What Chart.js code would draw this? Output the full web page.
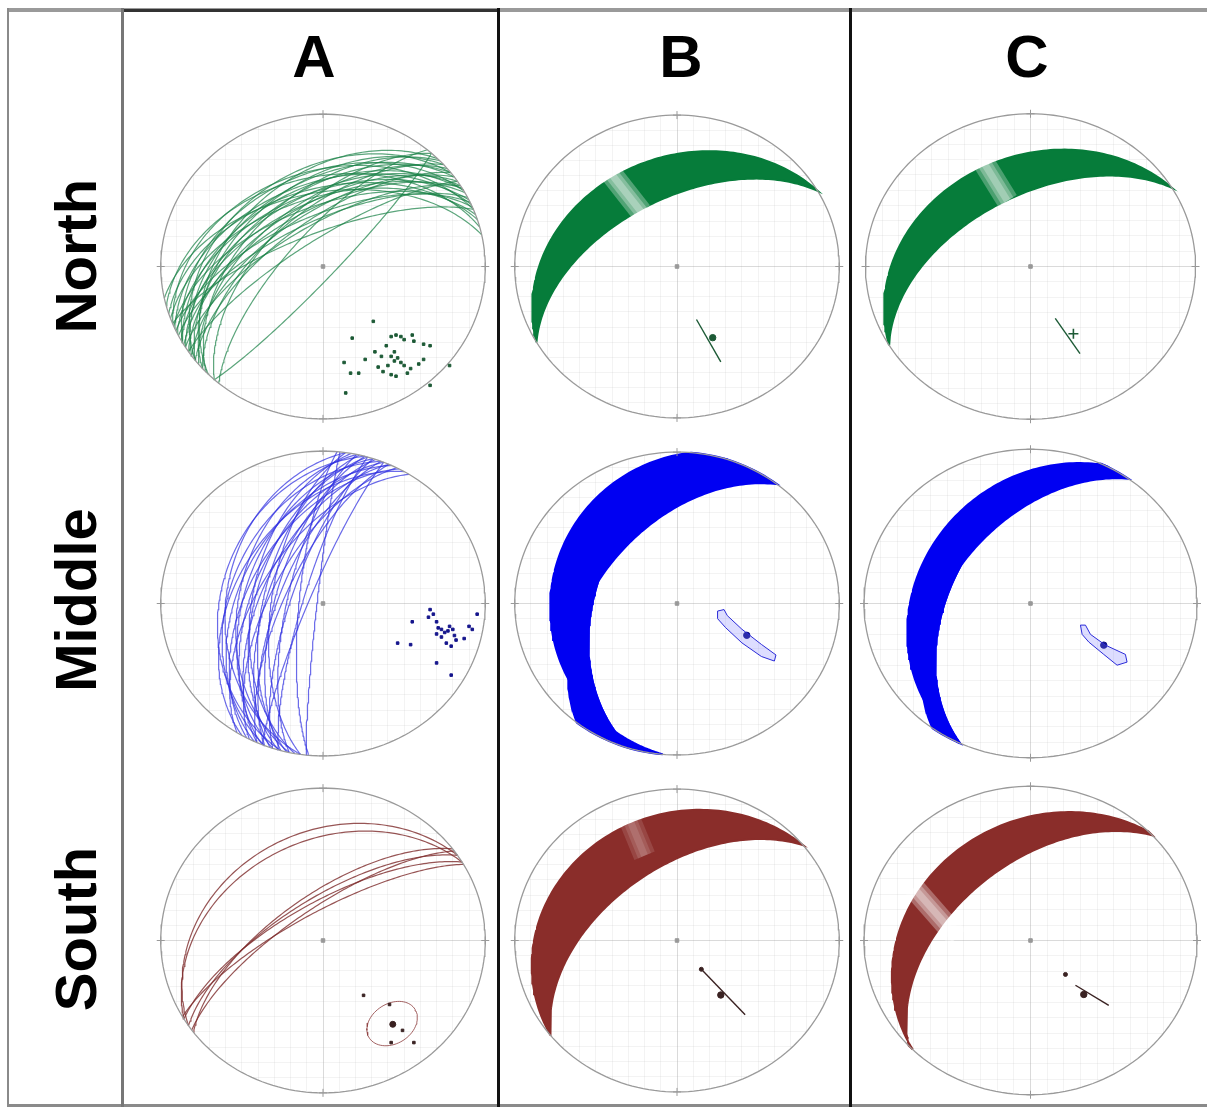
<!DOCTYPE html>
<html>
<head>
<meta charset="utf-8">
<script src="https://cdn.jsdelivr.net/npm/chart.js@4.4.1/dist/chart.umd.min.js"></script>
<style>
html, body { margin: 0; padding: 0; background: #fff; }
body { width: 1207px; height: 1109px; position: relative; overflow: hidden; font-family: "Liberation Sans", Arial, sans-serif; }
canvas.net { position: absolute; z-index: 1; }
.rule { position: absolute; z-index: 3; }
.head { position: absolute; top: 27px; width: 100px; margin-left: -50px; text-align: center; font-weight: bold; font-size: 60px; line-height: 60px; z-index: 4; }
.side { position: absolute; width: 260px; height: 58px; margin-left: -130px; margin-top: -29px; text-align: center; font-weight: bold; font-size: 58px; line-height: 58px; transform: rotate(-90deg); z-index: 4; }
</style>
</head>
<body>
<div class="rule" style="left:7px;top:8px;width:1200px;height:4px;background:#9a9a9a"></div>
<div class="rule" style="left:123px;top:9px;width:376px;height:3px;background:#333"></div>
<div class="rule" style="left:7px;top:8px;width:2px;height:1099px;background:#8a8a8a"></div>
<div class="rule" style="left:7px;top:1104px;width:1200px;height:3px;background:#8a8a8a"></div>
<div class="rule" style="left:121px;top:8px;width:3px;height:1099px;background:#777"></div>
<div class="rule" style="left:497px;top:8px;width:3px;height:1099px;background:#111"></div>
<div class="rule" style="left:849px;top:8px;width:3px;height:1099px;background:#111"></div>

<div class="head" style="left:314px">A</div>
<div class="head" style="left:681px">B</div>
<div class="head" style="left:1027px">C</div>
<div class="side" style="left:76px;top:256px">North</div>
<div class="side" style="left:76px;top:600px">Middle</div>
<div class="side" style="left:76px;top:929px">South</div>

<script>
// ---------- data read off the stereonets (lower hemisphere, equal area) ----------
// column A: great circles as [strike, dip] (right-hand rule)
const northPlanes = [
    [225, 42], [232, 38], [240, 40], [248, 38], [255, 41],
    [228, 46], [234, 45], [240, 47], [246, 45], [252, 48],
    [226, 51], [232, 50], [238, 52], [244, 51], [250, 53],
    [230, 56], [236, 57], [241, 56], [247, 58],
    [228, 61], [234, 62], [239, 60], [245, 63],
    [232, 66], [238, 68], [243, 66],
    [222, 60], [220, 72], [236, 76], [248, 72], [42, 84], [258, 50]
];
const middlePlanes = [
    [188, 40], [195, 37], [201, 42], [192, 47], [198, 50], [205, 47],
    [190, 54], [196, 56], [202, 54], [208, 52], [193, 60], [199, 62],
    [204, 59], [188, 64], [195, 66], [201, 68], [207, 64], [192, 72],
    [198, 74], [204, 71], [185, 78], [196, 80], [202, 83], [186, 87],
    [210, 45], [212, 58]
];
const southPlanes = [[236, 31], [239, 36], [233, 66], [236, 68], [239, 70], [234, 73], [240, 75]];

// column A: poles as net coordinates [x (east), y (north)]
const northPoles = [
    [0.31, -0.36], [0.18, -0.47], [0.13, -0.63], [0.17, -0.70], [0.22, -0.70], [0.14, -0.83],
    [0.26, -0.61], [0.39, -0.52], [0.42, -0.46], [0.45, -0.45], [0.48, -0.46], [0.50, -0.48],
    [0.55, -0.45], [0.56, -0.49], [0.62, -0.51], [0.66, -0.52], [0.44, -0.56], [0.42, -0.59],
    [0.46, -0.60], [0.44, -0.62], [0.48, -0.63], [0.40, -0.65], [0.34, -0.66], [0.37, -0.69],
    [0.42, -0.71], [0.50, -0.65], [0.54, -0.67], [0.59, -0.64], [0.62, -0.61], [0.52, -0.70],
    [0.45, -0.72], [0.66, -0.78], [0.78, -0.65], [0.32, -0.56], [0.36, -0.59]
];
const middlePoles = [
    [0.66, -0.04], [0.68, -0.07], [0.70, -0.12], [0.71, -0.16], [0.73, -0.17], [0.75, -0.19],
    [0.77, -0.18], [0.78, -0.15], [0.80, -0.17], [0.81, -0.21], [0.82, -0.24], [0.79, -0.28],
    [0.76, -0.26], [0.70, -0.20], [0.73, -0.22], [0.87, -0.23], [0.90, -0.15], [0.92, -0.17],
    [0.95, -0.07], [0.55, -0.12], [0.46, -0.26], [0.54, -0.27], [0.70, -0.39], [0.79, -0.47],
    [0.65, -0.09]
];
const southPoles = [[0.25, -0.36], [0.41, -0.42], [0.43, -0.55], [0.49, -0.59], [0.42, -0.67], [0.56, -0.67]];
const southCone = { trend: 142, plunge: 31, angle: 12 };

// columns B and C: bands swept by great circles, given by control planes [strike, dip]
// from the shallow (outer) edge to the steep (inner) edge
const bandB = [
    [[240, 30], [240, 54]],
    [[185, 23], [197, 48], [218, 50]],
    [[231, 20], [231, 52]]
];
const bandC = [
    [[239, 30], [239, 53]],
    [[206, 31], [205, 50], [216, 50]],
    [[225, 28], [227, 51]]
];
// lighter streaks across the bands (net coordinates)
const streakB = [[[-0.22, 0.36], [-0.44, 0.66]], null, [[-0.20, 0.56], [-0.30, 0.82]]];
const streakC = [[[-0.14, 0.43], [-0.30, 0.71]], null, [[-0.44, 0.02], [-0.70, 0.34]]];

// columns B and C: pole paths (net coordinates) and mean poles
const pathB = [
    [[0.12, -0.35], [0.27, -0.63]],
    [[0.25, -0.05], [0.29, -0.04], [0.31, -0.08], [0.40, -0.17], [0.52, -0.27], [0.61, -0.34],
     [0.60, -0.38], [0.52, -0.35], [0.40, -0.26], [0.30, -0.16], [0.25, -0.10], [0.25, -0.05]],
    [[0.15, -0.19], [0.42, -0.49]]
];
const pathC = [
    [[0.15, -0.34], [0.30, -0.57]],
    [[0.30, -0.14], [0.33, -0.14], [0.36, -0.20], [0.45, -0.27], [0.57, -0.33], [0.58, -0.38],
     [0.52, -0.40], [0.44, -0.33], [0.35, -0.25], [0.31, -0.20], [0.30, -0.14]],
    [[0.27, -0.29], [0.47, -0.42]]
];
const meanB = [[0.22, -0.47], [0.43, -0.21], [0.27, -0.36]];
const meanC = [[0.26, -0.44], [0.44, -0.27], [0.32, -0.35]];
const startB = [null, null, [0.15, -0.19]];
const startC = [null, null, [0.21, -0.22]];

// ---------- styles and layout ----------
const lineColors = ['rgba(28,130,72,0.72)', 'rgba(48,48,225,0.72)', 'rgba(125,42,42,0.8)'];
const bandColors = ['#067c3a', '#0000f2', '#8a2d2a'];
const poleColors = ['#1d5a36', '#15158c', '#3a2222'];
const streakAlpha = { B: [0.3, 0, 0.12], C: [0.28, 0, 0.3] };
const loopFill = 'rgba(120,120,255,0.25)';
const colLayout = [{ cx: 322.5, rx: 167, ry: 157 }, { cx: 676.5, rx: 167, ry: 156 }, { cx: 1030, rx: 171, ry: 159 }];
const rowY = [266, 603, 940];
const R = 1.06;

// ---------- projection ----------
const D = Math.PI / 180;
const project = (n, e, z) => {
    if (z < 0) { n = -n; e = -e; z = -z; }
    const plunge = Math.asin(Math.min(1, z));
    const trend = Math.atan2(e, n);
    const r = Math.SQRT2 * Math.sin((Math.PI / 2 - plunge) / 2);
    return { x: r * Math.sin(trend), y: r * Math.cos(trend) };
};

const planeCurve = (strike, dip) => {
    const s = strike * D, d = dip * D, pts = [];
    for (let i = 0; i <= 120; i++) {
        const t = Math.PI * i / 120;
        const n = Math.cos(t) * Math.cos(s) - Math.sin(t) * Math.sin(s) * Math.cos(d);
        const e = Math.cos(t) * Math.sin(s) + Math.sin(t) * Math.cos(s) * Math.cos(d);
        pts.push(project(n, e, Math.sin(t) * Math.sin(d)));
    }
    return pts;
};

// piece of the primitive circle between two azimuths, the short way round
const rimArc = (a0, a1) => {
    const d = ((a1 - a0) % 360 + 540) % 360 - 180;
    const n = Math.max(1, Math.ceil(Math.abs(d) / 2)), pts = [];
    for (let k = 0; k <= n; k++) {
        const a = (a0 + d * k / n) * D;
        pts.push({ x: Math.sin(a), y: Math.cos(a) });
    }
    return pts;
};

// area swept between two control planes
const sweep = ([sa, da], [sb, db]) =>
    planeCurve(sa, da).concat(rimArc(sa + 180, sb + 180), planeCurve(sb, db).reverse(), rimArc(sb, sa));

const smallCircle = ({ trend, plunge, angle }) => {
    const t = trend * D, p = plunge * D, a = angle * D;
    const ax = [Math.cos(p) * Math.cos(t), Math.cos(p) * Math.sin(t), Math.sin(p)];
    const u = [-Math.sin(p) * Math.cos(t), -Math.sin(p) * Math.sin(t), Math.cos(p)];
    const v = [-Math.sin(t), Math.cos(t), 0];
    const pts = [];
    for (let k = 0; k <= 72; k++) {
        const f = 2 * Math.PI * k / 72;
        const c = i => ax[i] * Math.cos(a) + Math.sin(a) * (u[i] * Math.cos(f) + v[i] * Math.sin(f));
        pts.push(project(c(0), c(1), c(2)));
    }
    return pts;
};

const rim = rimArc(0, 180).concat(rimArc(180, 360));
const xy = arr => arr.map(([x, y]) => ({ x, y }));

// ---------- dataset builders ----------
const frameSets = () => [
    { data: rim, showLine: true, pointRadius: 0, borderColor: '#9a9a9a', borderWidth: 1.3, order: 3 },
    { data: xy([[0, 1], [1, 0], [0, -1], [-1, 0]]), pointStyle: 'cross', pointRadius: 4, borderColor: '#999', borderWidth: 1, order: 3 },
    { data: [{ x: 0, y: 0 }], pointStyle: 'rect', pointRadius: 2.5, backgroundColor: '#999', borderColor: '#999', order: 2 }
];

const columnA = row => {
    const planes = [northPlanes, middlePlanes, southPlanes][row];
    const poles = [northPoles, middlePoles, southPoles][row];
    const sets = planes.map(([s, d]) => ({
        data: planeCurve(s, d), showLine: true, pointRadius: 0,
        borderColor: lineColors[row], borderWidth: 1.2, order: 5
    }));
    sets.push({ data: xy(poles), pointStyle: 'rect', pointRadius: 1.8, backgroundColor: poleColors[row], borderColor: poleColors[row], order: 1 });
    if (row === 2) {
        sets.push({ data: smallCircle(southCone), showLine: true, pointRadius: 0, borderColor: 'rgba(140,60,60,0.8)', borderWidth: 1, order: 1 });
        sets.push({ data: [{ x: 0.43, y: -0.55 }], pointRadius: 3, backgroundColor: poleColors[row], borderColor: poleColors[row], order: 1 });
    }
    return sets;
};

const columnBC = (row, col) => {
    const bands = col === 1 ? bandB : bandC;
    const streaks = col === 1 ? streakB : streakC;
    const alpha = (col === 1 ? streakAlpha.B : streakAlpha.C)[row];
    const paths = col === 1 ? pathB : pathC;
    const means = col === 1 ? meanB : meanC;
    const starts = col === 1 ? startB : startC;
    const planes = bands[row];
    const sets = [];
    for (let i = 0; i + 1 < planes.length; i++) {
        sets.push({
            data: sweep(planes[i], planes[i + 1]), showLine: true, pointRadius: 0, fill: 'shape',
            backgroundColor: bandColors[row], borderColor: bandColors[row], borderWidth: 2, order: 8
        });
    }
    if (streaks[row]) {
        [22, 14, 7].forEach((w, k) => sets.push({
            data: xy(streaks[row]), showLine: true, pointRadius: 0,
            borderColor: `rgba(255,255,255,${alpha})`, borderWidth: w, order: 7 - k
        }));
    }
    const loop = row === 1;
    sets.push({
        data: xy(paths[row]), showLine: true, pointRadius: 0, fill: loop ? 'shape' : false,
        backgroundColor: loopFill, borderColor: loop ? '#2b2bd8' : poleColors[row], borderWidth: loop ? 1 : 1.4, order: 1
    });
    const cross = row === 0 && col === 2;
    sets.push({
        data: xy([means[row]]), pointStyle: cross ? 'cross' : 'circle', pointRadius: cross ? 5 : 3.2,
        backgroundColor: poleColors[row], borderColor: poleColors[row], borderWidth: cross ? 1.6 : 1, order: 1
    });
    if (starts[row]) {
        sets.push({ data: xy([starts[row]]), pointRadius: 2, backgroundColor: poleColors[row], borderColor: poleColors[row], order: 1 });
    }
    return sets;
};

// ---------- chart plumbing ----------
const gridColor = c => (c.tick && Math.abs(c.tick.value) < 1e-9) ? 'rgba(150,150,150,0.35)' : 'rgba(170,170,170,0.14)';
const axis = () => ({
    type: 'linear', min: -R, max: R,
    ticks: { display: false, stepSize: 0.1 },
    grid: { color: gridColor, drawTicks: false, lineWidth: 1 },
    border: { display: false }
});

// keep the faint net grid inside the primitive circle
const netClip = {
    id: 'netClip',
    beforeDraw(chart) {
        const { ctx, scales: { x, y } } = chart;
        const cx = x.getPixelForValue(0), cy = y.getPixelForValue(0);
        ctx.save();
        ctx.beginPath();
        ctx.ellipse(cx, cy, x.getPixelForValue(1) - cx, cy - y.getPixelForValue(1), 0, 0, 2 * Math.PI);
        ctx.clip();
    },
    beforeDatasetsDraw(chart) { chart.ctx.restore(); }
};

const makeNet = (row, col, datasets) => {
    const { cx, rx, ry } = colLayout[col];
    const w = Math.round(2 * rx * R), h = Math.round(2 * ry * R);
    const canvas = document.createElement('canvas');
    canvas.className = 'net';
    canvas.width = w; canvas.height = h;
    canvas.style.left = Math.round(cx - w / 2) + 'px';
    canvas.style.top = Math.round(rowY[row] - h / 2) + 'px';
    canvas.style.width = w + 'px'; canvas.style.height = h + 'px';
    document.body.appendChild(canvas);
    return new Chart(canvas.getContext('2d'), {
        type: 'scatter',
        data: { datasets },
        options: {
            responsive: false,
            devicePixelRatio: 1,
            animation: false,
            events: [],
            layout: { padding: 0 },
            scales: { x: axis(), y: axis() },
            plugins: { legend: { display: false }, tooltip: { enabled: false } }
        },
        plugins: [netClip]
    });
};

for (let row = 0; row < 3; row++) {
    makeNet(row, 0, frameSets().concat(columnA(row)));
    makeNet(row, 1, frameSets().concat(columnBC(row, 1)));
    makeNet(row, 2, frameSets().concat(columnBC(row, 2)));
}
</script>
</body>
</html>
